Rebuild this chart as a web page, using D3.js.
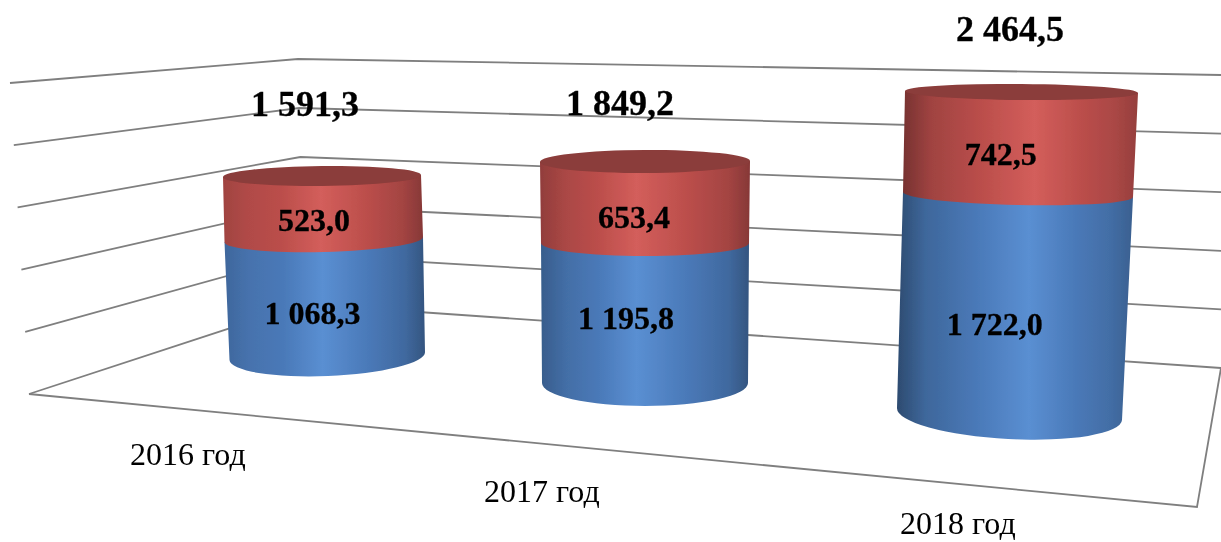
<!DOCTYPE html>
<html><head><meta charset="utf-8">
<script src="https://cdn.jsdelivr.net/npm/d3@7"></script>
<style>html,body{margin:0;padding:0;background:#fff}svg{display:block}text{font-family:"Liberation Serif","Times New Roman",serif;fill:#000}</style>
</head><body><div id="c"></div>
<script>
// ---- data ----
const categories = ["2016 год", "2017 год", "2018 год"];
const seriesBlue = [1068.3, 1195.8, 1722.0];
const seriesRed = [523.0, 653.4, 742.5];
const totals = [1591.3, 1849.2, 2464.5];
const axisTicks = [0, 500, 1000, 1500, 2000, 2500];

// ---- layout (perspective anchors, bottom / seam / top of each cylinder) ----
const W = 1221, H = 542;
const barLeftX  = [[229.5, 224.5, 223], [542, 541, 540], [897, 903, 905]];
const barLeftY  = [[360, 242, 177], [383, 243, 162], [408, 192, 91]];
const barRightX = [[425, 423, 421], [748, 749, 750], [1122, 1133, 1138]];
const barRightY = [[352, 237, 175], [383, 243, 161], [420, 197, 93]];
const barSag    = [[20, 12.5, 10], [23, 13, 11.5], [25, 10.5, 8]];
const gradPeak  = [0.49, 0.46, 0.56];
const edgeLeft  = [0.65, 0.45, 0.1];
const edgeRight = [0.3, 0.3, 0.5];
// x nudge blue, x nudge red, y nudge red, y nudge blue
const innerNudge = [[-13, -9, 12, 15], [-19, -11, 15, 5], [-19, -19, 11, 20]];
const totalPos = [[305, 116], [620, 115], [1010, 41]];
const catPos = [[130, 465], [484, 502], [900, 534]];
const floorFront = [[29, 394], [1197, 507], [1221, 368]];

const fmt = v => {
  const s = v.toFixed(1).replace(".", ",");
  const [a, b] = s.split(",");
  return a.replace(/\B(?=(\d{3})+$)/g, " ") + "," + b;
};

const svg = d3.select("#c").append("svg").attr("width", W).attr("height", H).attr("viewBox", `0 0 ${W} ${H}`);
const defs = svg.append("defs");
defs.append("filter").attr("id", "soft").attr("x", "-5%").attr("y", "-5%").attr("width", "110%").attr("height", "110%")
  .append("feGaussianBlur").attr("stdDeviation", 0.35);
const root = svg.append("g").attr("filter", "url(#soft)");

// ---- walls / gridlines ----
const dom = d3.extent(axisTicks);
const wallLeftX = d3.scaleLinear().domain(dom).range([29, 10]);
const wallLeftY = d3.scaleLinear().domain(dom).range([394, 83]);
const cornerX = d3.scaleLinear().domain(dom).range([304, 298]);
const cornerY = d3.scaleLinear().domain(dom).range([304, 59]);
const wallRightY = d3.scaleLinear().domain(dom).range([368, 75]);
const line = d3.line();
const gridCol = "#7f7f7f";
root.append("g").selectAll("path").data(axisTicks).join("path")
  .attr("d", t => line([[wallLeftX(t), wallLeftY(t)], [cornerX(t), cornerY(t)], [W, wallRightY(t)]]))
  .attr("fill", "none").attr("stroke", gridCol).attr("stroke-width", 1.8);
root.append("path").attr("d", line(floorFront)).attr("fill", "none").attr("stroke", gridCol).attr("stroke-width", 1.8);

// ---- cylinders ----
const redPal = {peak: "#d35e5b", mid: "#bb4e4b", dark: "#6f2f2e"};
const bluePal = {peak: "#5a8fd2", mid: "#4a79b8", dark: "#2a4668"};
function grad(id, pal, i) {
  const g = defs.append("linearGradient").attr("id", id).attr("x1", 0).attr("x2", 1).attr("y1", 0).attr("y2", 0);
  const cl = d3.interpolateRgb(pal.dark, pal.mid)(edgeLeft[i]);
  const cr = d3.interpolateRgb(pal.dark, pal.mid)(edgeRight[i]);
  const p = gradPeak[i];
  [[0, cl], [0.12, d3.interpolateRgb(cl, pal.mid)(0.6)], [p * 0.6, pal.mid], [p, pal.peak], [p + (1 - p) * 0.45, pal.mid], [0.9, d3.interpolateRgb(cr, pal.mid)(0.55)], [1, cr]]
    .forEach(([o, c]) => g.append("stop").attr("offset", o).attr("stop-color", c));
}
categories.forEach((cat, i) => {
  const dm = [0, seriesBlue[i], totals[i]];
  const s = a => d3.scaleLinear().domain(dm).range(a);
  const lx = s(barLeftX[i]), ly = s(barLeftY[i]), rx = s(barRightX[i]), ry = s(barRightY[i]), sag = s(barSag[i]);
  const tilt = v => Math.atan2(ry(v) - ly(v), rx(v) - lx(v)) * 180 / Math.PI;
  const half = v => Math.hypot(rx(v) - lx(v), ry(v) - ly(v)) / 2;
  const seg = (v0, v1) => `M${lx(v0)},${ly(v0)}L${lx(v1)},${ly(v1)}L${rx(v1)},${ry(v1)}L${rx(v0)},${ry(v0)}` +
    `A${half(v0)},${sag(v0)} ${tilt(v0)} 0 1 ${lx(v0)},${ly(v0)}Z`;
  const top = v => `M${lx(v)},${ly(v)}A${half(v)},${sag(v)} ${tilt(v)} 0 1 ${rx(v)},${ry(v)}A${half(v)},${sag(v)} ${tilt(v)} 0 1 ${lx(v)},${ly(v)}Z`;
  grad("b" + i, bluePal, i); grad("r" + i, redPal, i);
  const g = root.append("g");
  g.append("path").attr("d", seg(0, seriesBlue[i])).attr("fill", `url(#b${i})`);
  g.append("path").attr("d", seg(seriesBlue[i], totals[i])).attr("fill", `url(#r${i})`);
  g.append("path").attr("d", top(totals[i])).attr("fill", "#8b3c3a");

  const cx = v => (lx(v) + rx(v)) / 2;
  const cy = v => (ly(v) + ry(v)) / 2;
  const midB = seriesBlue[i] / 2, midR = seriesBlue[i] + seriesRed[i] / 2;
  const lab = (x, y, t) => g.append("text").attr("x", x).attr("y", y).attr("text-anchor", "middle").attr("dominant-baseline", "central")
    .attr("font-size", 32).attr("font-weight", 700).attr("stroke", "#000").attr("stroke-width", 0.3).text(t);
  lab(cx(midB) + innerNudge[i][0], cy(midB) + innerNudge[i][3], fmt(seriesBlue[i]));
  lab(cx(midR) + innerNudge[i][1], cy(midR) + innerNudge[i][2], fmt(seriesRed[i]));
  root.append("text").attr("x", totalPos[i][0]).attr("y", totalPos[i][1]).attr("text-anchor", "middle")
    .attr("font-size", 36).attr("font-weight", 700).attr("stroke", "#000").attr("stroke-width", 0.3).text(fmt(totals[i]));
  root.append("text").attr("x", catPos[i][0]).attr("y", catPos[i][1]).attr("font-size", 32).text(cat);
});
</script></body></html>
